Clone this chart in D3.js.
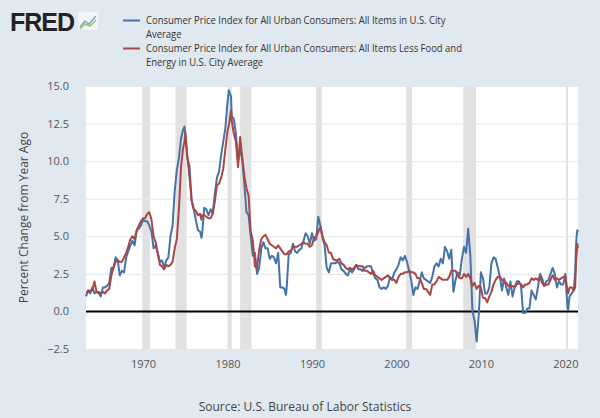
<!DOCTYPE html>
<html>
<head>
<meta charset="utf-8">
<script src="https://cdn.jsdelivr.net/npm/d3@7"></script>
<style>
  body { margin: 0; background: #e1e9f0; }
  svg { display: block; font-family: "Open Sans", sans-serif; }
</style>
</head>
<body>
<svg id="chart" width="600" height="418"></svg>
<script>
// dates (year-month) shared by both series
var dates = [
  "1963-04","1963-07","1963-10",
  "1964-01","1964-04","1964-07","1964-10",
  "1965-01","1965-04","1965-07","1965-10",
  "1966-01","1966-04","1966-07","1966-10",
  "1967-01","1967-04","1967-07","1967-10",
  "1968-01","1968-04","1968-07","1968-10",
  "1969-01","1969-04","1969-07","1969-10",
  "1970-01","1970-04","1970-07","1970-10",
  "1971-01","1971-04","1971-07","1971-10",
  "1972-01","1972-04","1972-07","1972-10",
  "1973-01","1973-04","1973-07","1973-10",
  "1974-01","1974-04","1974-07","1974-10","1974-12",
  "1975-01","1975-04","1975-07","1975-10",
  "1976-01","1976-04","1976-07","1976-10","1976-12",
  "1977-01","1977-04","1977-07","1977-10",
  "1978-01","1978-04","1978-07","1978-10",
  "1979-01","1979-04","1979-07","1979-10",
  "1980-01","1980-03","1980-06","1980-07","1980-10",
  "1981-01","1981-04","1981-07","1981-10",
  "1982-01","1982-04","1982-07","1982-10",
  "1983-01","1983-04","1983-07","1983-10",
  "1984-01","1984-04","1984-07","1984-10",
  "1985-01","1985-04","1985-07","1985-10",
  "1986-01","1986-04","1986-07","1986-10","1986-12",
  "1987-01","1987-04","1987-07","1987-10",
  "1988-01","1988-04","1988-07","1988-10",
  "1989-01","1989-04","1989-07","1989-10",
  "1990-01","1990-04","1990-07","1990-10",
  "1991-01","1991-04","1991-07","1991-10",
  "1992-01","1992-04","1992-07","1992-10",
  "1993-01","1993-04","1993-07","1993-10",
  "1994-01","1994-04","1994-07","1994-10",
  "1995-01","1995-04","1995-07","1995-10",
  "1996-01","1996-04","1996-07","1996-10",
  "1997-01","1997-04","1997-07","1997-10",
  "1998-01","1998-04","1998-07","1998-10",
  "1999-01","1999-04","1999-07","1999-10",
  "2000-01","2000-04","2000-07","2000-10",
  "2001-01","2001-04","2001-07","2001-10",
  "2002-01","2002-04","2002-07","2002-10",
  "2003-01","2003-04","2003-07","2003-10",
  "2004-01","2004-04","2004-07","2004-10",
  "2005-01","2005-04","2005-07","2005-10",
  "2006-01","2006-04","2006-07","2006-10",
  "2007-01","2007-04","2007-07","2007-10",
  "2008-01","2008-04","2008-07","2008-10",
  "2009-01","2009-04","2009-07","2009-10",
  "2010-01","2010-04","2010-07","2010-10",
  "2011-01","2011-04","2011-07","2011-10",
  "2012-01","2012-04","2012-07","2012-10",
  "2013-01","2013-04","2013-07","2013-10",
  "2014-01","2014-04","2014-07","2014-10",
  "2015-01","2015-04","2015-07","2015-10",
  "2016-01","2016-04","2016-07","2016-10",
  "2017-01","2017-04","2017-07","2017-10",
  "2018-01","2018-04","2018-07","2018-10",
  "2019-01","2019-04","2019-07","2019-10",
  "2020-01","2020-04","2020-05","2020-07","2020-10",
  "2021-01","2021-03","2021-04","2021-05","2021-06","2021-07"
];

// all items CPI, percent change from year ago
var cpiAll = [
  1.0,1.4,1.2,
  1.6,1.2,1.3,1.2,
  1.0,1.6,1.6,1.7,
  1.9,2.9,2.9,3.6,
  3.4,2.4,2.7,2.6,
  3.6,4.0,4.4,4.7,
  4.4,5.4,5.5,5.7,
  6.1,6.0,6.0,5.7,
  5.3,4.2,4.4,3.9,
  3.3,3.4,2.9,3.4,
  3.6,5.0,5.7,8.0,
  9.4,10.2,11.5,12.1,12.3,
  11.8,10.2,9.7,7.4,
  6.8,6.1,5.4,5.3,4.9,
  5.2,6.9,6.8,6.4,
  6.8,6.5,7.8,8.9,
  9.3,10.4,11.3,12.2,
  13.9,14.7,14.3,13.0,12.8,
  11.8,10.0,10.8,10.1,
  8.4,6.6,6.4,5.0,
  3.7,3.9,2.5,2.9,
  4.2,4.6,4.2,4.2,
  3.5,3.7,3.6,3.2,
  3.9,1.6,1.6,1.5,1.1,
  1.5,3.8,3.9,4.5,
  4.0,3.9,4.1,4.2,
  4.7,5.2,5.0,4.5,
  5.2,4.7,4.8,6.3,
  5.7,4.9,4.4,2.9,
  2.6,3.2,3.2,3.2,
  3.3,3.2,2.8,2.7,
  2.5,2.4,2.8,2.6,
  2.8,3.1,2.8,2.8,
  2.7,2.9,3.0,3.0,
  3.0,2.5,2.2,2.1,
  1.6,1.5,1.6,1.5,
  1.7,2.3,2.1,2.6,
  2.8,3.1,3.6,3.4,
  3.7,3.3,2.7,2.1,
  1.1,1.6,1.5,2.0,
  2.6,2.2,2.1,2.0,
  1.9,2.3,3.0,3.2,
  3.0,3.5,3.2,4.3,
  4.0,3.5,4.1,1.3,
  2.1,2.6,2.4,3.5,
  4.3,3.9,5.5,3.7,
  0.0,-0.6,-2.0,-0.2,
  2.6,2.2,1.2,1.2,
  1.6,3.2,3.6,3.5,
  2.9,2.3,1.4,2.2,
  1.6,1.1,2.0,1.0,
  1.6,2.0,2.0,1.7,
  -0.1,-0.1,0.2,0.2,
  1.4,1.1,0.8,1.6,
  2.5,2.2,1.7,2.0,
  2.1,2.5,2.9,2.5,
  1.6,2.0,1.8,1.8,
  2.5,0.3,0.1,1.0,1.2,
  1.4,2.6,4.2,5.0,5.4,5.3
];

// all items less food and energy, percent change from year ago
var cpiCore = [
  1.3,1.3,1.4,
  1.4,2.0,1.3,1.3,
  1.2,1.3,1.2,1.4,
  1.5,2.4,2.9,3.3,
  3.4,3.3,3.3,3.6,
  3.9,4.3,4.8,5.0,
  4.8,5.4,5.7,6.0,
  6.2,6.2,6.5,6.6,
  6.1,5.0,4.6,3.8,
  3.1,3.0,2.8,3.1,
  3.0,3.1,3.3,4.2,
  4.8,6.8,9.6,10.9,11.3,
  11.9,10.3,9.0,7.4,
  6.8,6.7,6.4,6.5,6.1,
  6.4,6.4,6.3,6.2,
  6.2,6.5,7.3,8.4,
  8.5,8.9,9.5,10.8,
  12.0,12.4,13.4,12.7,11.8,
  11.3,9.6,11.6,10.2,
  9.0,8.2,7.7,5.3,
  4.7,3.0,2.9,4.1,
  4.8,5.0,5.1,4.8,
  4.5,4.4,4.3,4.2,
  4.4,4.2,4.0,3.8,3.8,
  3.8,4.0,4.0,4.3,
  4.3,4.3,4.4,4.5,
  4.6,4.5,4.5,4.3,
  4.4,4.9,5.0,5.3,
  5.6,5.0,4.6,4.4,
  3.9,3.9,3.5,3.4,
  3.4,3.5,3.2,3.1,
  2.9,2.8,2.9,2.8,
  2.9,3.1,3.0,3.0,
  3.0,2.7,2.7,2.6,
  2.5,2.7,2.4,2.3,
  2.2,2.1,2.2,2.3,
  2.4,2.2,2.1,2.1,
  1.9,2.3,2.5,2.5,
  2.6,2.6,2.7,2.6,
  2.6,2.5,2.2,2.2,
  1.9,1.5,1.5,1.3,
  1.1,1.8,1.8,2.0,
  2.3,2.2,2.1,2.1,
  2.1,2.3,2.7,2.7,
  2.7,2.4,2.2,2.2,
  2.5,2.3,2.5,2.2,
  1.7,1.9,1.5,1.7,
  1.6,0.9,0.9,0.6,
  1.0,1.3,1.8,2.1,
  2.3,2.3,2.1,2.0,
  1.9,1.7,1.7,1.7,
  1.6,1.8,1.9,1.8,
  1.6,1.8,1.8,1.9,
  2.2,2.1,2.2,2.1,
  2.3,1.9,1.7,1.8,
  1.8,2.1,2.4,2.1,
  2.2,2.1,2.2,2.3,
  2.3,1.4,1.2,1.6,1.6,
  1.4,1.6,3.0,3.8,4.5,4.2
];

// NBER recessions, start and end months
var recessionStart = ["1969-12","1973-11","1980-01","1981-07","1990-07","2001-03","2007-12","2020-02"];
var recessionEnd   = ["1970-11","1975-03","1980-07","1982-11","1991-03","2001-11","2009-06","2020-04"];

var yTicks = [-2.5, 0, 2.5, 5, 7.5, 10, 12.5, 15];
var xTickYears = [1970, 1980, 1990, 2000, 2010, 2020];

var seriesNames = [
  ["Consumer Price Index for All Urban Consumers: All Items in U.S. City", "Average"],
  ["Consumer Price Index for All Urban Consumers: All Items Less Food and", "Energy in U.S. City Average"]
];
var seriesColors = ["#4572a7", "#aa4643"];

var parseMonth = d3.timeParse("%Y-%m");
var svg = d3.select("#chart");

var plot = {left: 86, right: 578, top: 86, bottom: 349};

var x = d3.scaleTime()
    .domain(d3.extent(dates, parseMonth))
    .range([plot.left, plot.right]);

var y = d3.scaleLinear()
    .domain([-2.5, 15])
    .range([plot.bottom, plot.top]);

// white plot area
svg.append("rect")
    .attr("x", plot.left)
    .attr("y", plot.top)
    .attr("width", plot.right - plot.left)
    .attr("height", plot.bottom - plot.top)
    .attr("fill", "#ffffff");

// recession shading
svg.append("g").selectAll("rect")
  .data(recessionStart)
  .enter().append("rect")
    .attr("x", function(d) { return x(parseMonth(d)); })
    .attr("y", plot.top)
    .attr("width", function(d, i) { return Math.max(2, x(parseMonth(recessionEnd[i])) - x(parseMonth(d))); })
    .attr("height", plot.bottom - plot.top)
    .attr("fill", "#e1e1e1");

// horizontal grid
svg.append("g").selectAll("line")
  .data(yTicks)
  .enter().append("line")
    .attr("x1", plot.left)
    .attr("x2", plot.right)
    .attr("y1", function(d) { return y(d) + 0.5; })
    .attr("y2", function(d) { return y(d) + 0.5; })
    .attr("stroke", "#e6e6e6")
    .attr("stroke-width", 1);

// zero line
svg.append("line")
    .attr("x1", plot.left)
    .attr("x2", plot.right)
    .attr("y1", y(0))
    .attr("y2", y(0))
    .attr("stroke", "#000000")
    .attr("stroke-width", 2);

// y axis labels
var yAxis = svg.append("g")
    .attr("transform", "translate(" + (plot.left - 14) + ",0)")
    .call(d3.axisLeft(y).tickValues(yTicks).tickSize(0).tickFormat(d3.format(".1f")));
yAxis.select(".domain").remove();
yAxis.selectAll("text")
    .attr("font-family", "Open Sans, sans-serif")
    .attr("font-size", 11)
    .attr("fill", "#555555");

// x axis labels
var xAxis = svg.append("g")
    .attr("transform", "translate(0," + (plot.bottom + 8) + ")")
    .call(d3.axisBottom(x)
      .tickValues(xTickYears.map(function(d) { return new Date(d, 0, 1); }))
      .tickSize(0)
      .tickFormat(d3.timeFormat("%Y")));
xAxis.select(".domain").remove();
xAxis.selectAll("text")
    .attr("font-family", "Open Sans, sans-serif")
    .attr("font-size", 11)
    .attr("fill", "#555555");

// the two series
var line = d3.line()
    .x(function(d) { return x(d.date); })
    .y(function(d) { return y(d.value); });

[cpiAll, cpiCore].forEach(function(values, k) {
  var pts = values.map(function(v, i) { return {date: parseMonth(dates[i]), value: v}; });
  svg.append("path")
      .datum(pts)
      .attr("fill", "none")
      .attr("stroke", seriesColors[k])
      .attr("stroke-width", 2)
      .attr("stroke-linejoin", "round")
      .attr("d", line);
});

// y axis title
svg.append("text")
    .attr("transform", "translate(28," + ((plot.top + plot.bottom) / 2) + ") rotate(-90)")
    .attr("text-anchor", "middle")
    .attr("font-size", 12)
    .attr("fill", "#444444")
    .text("Percent Change from Year Ago");

// source note
svg.append("text")
    .attr("x", 305)
    .attr("y", 411)
    .attr("text-anchor", "middle")
    .attr("font-size", 12)
    .attr("fill", "#444444")
    .text("Source: U.S. Bureau of Labor Statistics");

// FRED logo
svg.append("text")
    .attr("x", 10)
    .attr("y", 31)
    .attr("font-family", "Liberation Sans, Arial, sans-serif")
    .attr("font-weight", "bold")
    .attr("font-size", 25)
    .attr("letter-spacing", -1)
    .attr("fill", "#222222")
    .text("FRED");
var icon = svg.append("g").attr("transform", "translate(78,12)");
icon.append("rect").attr("width", 20).attr("height", 18).attr("fill", "#ffffff").attr("opacity", 0.6);
icon.append("path").attr("d", "M2,15 L7,9 L11,12 L18,4").attr("fill", "none").attr("stroke", "#7aa6c2").attr("stroke-width", 1.5);
icon.append("path").attr("d", "M2,17 L7,12 L12,14 L18,8").attr("fill", "none").attr("stroke", "#9cc27a").attr("stroke-width", 1.5);

// legend: one wrapped text per series
var legend = svg.append("g");
seriesNames.forEach(function(lines, k) {
  var top = 20.5 + k * 28;
  legend.append("line")
      .attr("x1", 123).attr("x2", 140)
      .attr("y1", top).attr("y2", top)
      .attr("stroke", seriesColors[k])
      .attr("stroke-width", 2);
  var label = legend.append("text")
      .attr("class", "legendText")
      .attr("x", 146)
      .attr("y", top + 4)
      .attr("font-size", 10)
      .attr("fill", "#333333");
  lines.forEach(function(t, j) {
    label.append("tspan")
        .attr("x", 146)
        .attr("dy", j === 0 ? 0 : 14)
        .text(t);
  });
});
// squeeze legend text to the narrow width used in the original
var first = legend.select(".legendText tspan").node();
var sx = 300 / first.getComputedTextLength();
legend.selectAll(".legendText")
    .attr("transform", "translate(146,0) scale(" + sx + ",1) translate(-146,0)");
</script>
</body>
</html>
